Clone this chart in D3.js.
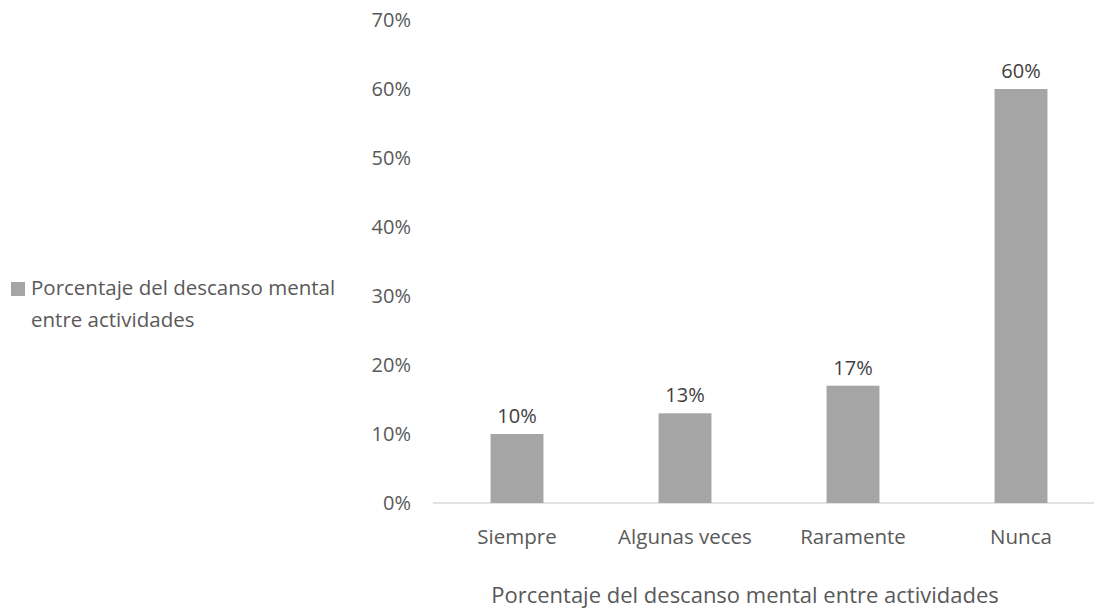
<!DOCTYPE html>
<html><head><meta charset="utf-8">
<script src="https://cdn.jsdelivr.net/npm/d3@7"></script>
<style>body{margin:0;background:#fff}text{font-family:"Open Sans",sans-serif;fill:#595959}</style>
</head><body>
<svg id="c" width="1094" height="609"></svg>
<script>
const categories = ["Siempre","Algunas veces","Raramente","Nunca"];
const values = [0.10,0.13,0.17,0.60];
const yTicks = [0,0.1,0.2,0.3,0.4,0.5,0.6,0.7];
const seriesName = "Porcentaje del descanso mental entre actividades";
const axisTitle = "Porcentaje del descanso mental entre actividades";

const svg = d3.select("#c");
const x = d3.scaleBand().domain(categories).range([433,1105]).padding(0);
const y = d3.scaleLinear().domain([0,0.7]).range([503,20]);
const fmt = d3.format(".0%");
const barW = x.bandwidth()*0.315;

svg.append("g").selectAll("text").data(yTicks).join("text")
  .attr("x",411).attr("y",d=>y(d)).attr("dy","0.35em")
  .attr("text-anchor","end").attr("font-size",20).text(fmt);

svg.append("line").attr("x1",433).attr("x2",1105).attr("y1",y(0)).attr("y2",y(0))
  .attr("stroke","#d9d9d9").attr("stroke-width",1.5);

svg.append("g").selectAll("rect").data(values).join("rect")
  .attr("x",(d,i)=>x(categories[i])+x.bandwidth()/2-barW/2)
  .attr("width",barW)
  .attr("y",d=>y(d)).attr("height",d=>y(0)-y(d))
  .attr("fill","#a5a5a5");

svg.append("g").selectAll("text").data(values).join("text")
  .attr("x",(d,i)=>x(categories[i])+x.bandwidth()/2)
  .attr("y",d=>y(d)-18).attr("dy","0.35em")
  .attr("text-anchor","middle").attr("font-size",20).style("fill","#404040").text(fmt);

svg.append("g").selectAll("text").data(categories).join("text")
  .attr("x",d=>x(d)+x.bandwidth()/2).attr("y",537).attr("dy","0.35em")
  .attr("text-anchor","middle").attr("font-size",20.5).text(d=>d);

svg.append("text").attr("x",745).attr("y",595).attr("dy","0.35em")
  .attr("text-anchor","middle").attr("font-size",22).text(axisTitle);

svg.append("rect").attr("x",11).attr("y",282).attr("width",14).attr("height",14).attr("fill","#a5a5a5");
const lt = svg.append("text").attr("font-size",20.5);
lt.append("tspan").attr("x",31).attr("y",288).attr("dy","0.35em").text("Porcentaje del descanso mental");
lt.append("tspan").attr("x",31).attr("y",320).attr("dy","0.35em").text("entre actividades");
</script>
</body></html>
